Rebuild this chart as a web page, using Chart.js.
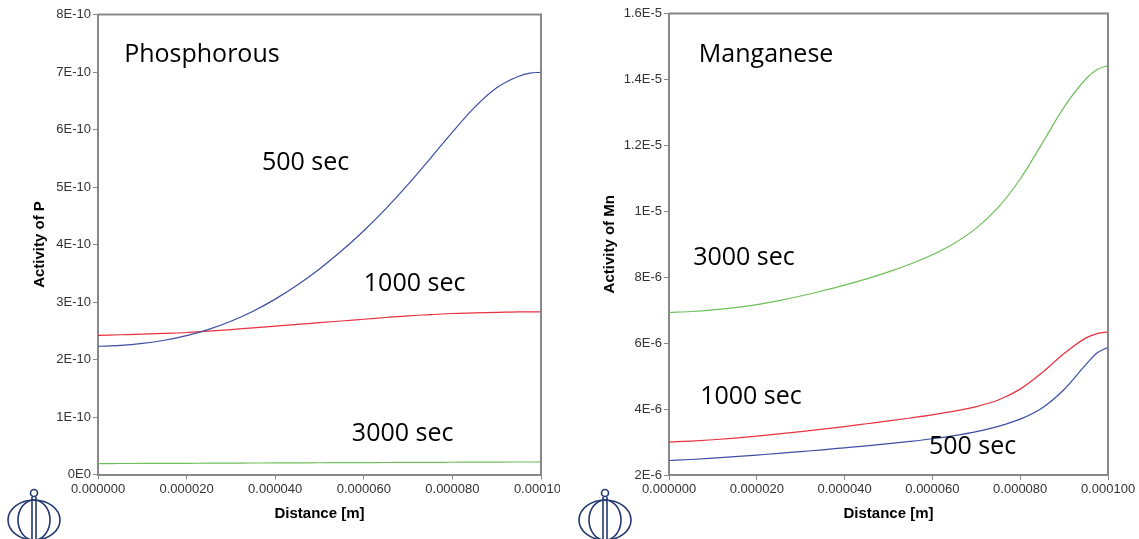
<!DOCTYPE html>
<html>
<head>
<meta charset="utf-8">
<script src="https://cdn.jsdelivr.net/npm/chart.js@4.4.1/dist/chart.umd.min.js"></script>
<style>
  html, body { margin: 0; padding: 0; background: #fff; }
  body { width: 1139px; height: 539px; position: relative; overflow: hidden; }
  .panel { position: absolute; top: 0; height: 539px; overflow: hidden; }
  #pPanel { left: 0; width: 560px; }
  #mnPanel { left: 570px; width: 569px; }
  canvas { display: block; }
</style>
</head>
<body>
<div class="panel" id="pPanel"><canvas id="pChart" width="580" height="539"></canvas></div>
<div class="panel" id="mnPanel"><canvas id="mnChart" width="589" height="539"></canvas></div>
<script>
// Distance from the interface, metres
const distance = [0, 5e-6, 10e-6, 15e-6, 20e-6, 25e-6, 30e-6, 35e-6, 40e-6, 45e-6, 50e-6,
                  55e-6, 60e-6, 65e-6, 70e-6, 75e-6, 80e-6, 85e-6, 90e-6, 95e-6, 97.5e-6, 100e-6];

// Activity of P at each holding time
const pActivity500 = [2.23e-10, 2.245e-10, 2.28e-10, 2.335e-10, 2.415e-10, 2.525e-10, 2.665e-10, 2.84e-10, 3.05e-10, 3.295e-10, 3.575e-10,
                      3.89e-10, 4.24e-10, 4.625e-10, 5.045e-10, 5.495e-10, 5.955e-10, 6.385e-10, 6.725e-10, 6.925e-10, 6.98e-10, 6.995e-10];
const pActivity1000 = [2.42e-10, 2.43e-10, 2.44e-10, 2.455e-10, 2.47e-10, 2.495e-10, 2.52e-10, 2.55e-10, 2.58e-10, 2.61e-10, 2.64e-10,
                       2.67e-10, 2.70e-10, 2.73e-10, 2.76e-10, 2.78e-10, 2.80e-10, 2.81e-10, 2.82e-10, 2.83e-10, 2.83e-10, 2.83e-10];
const pActivity3000 = [0.190e-10, 0.191e-10, 0.192e-10, 0.194e-10, 0.195e-10, 0.197e-10, 0.198e-10, 0.200e-10, 0.201e-10, 0.203e-10, 0.204e-10,
                       0.206e-10, 0.207e-10, 0.209e-10, 0.210e-10, 0.212e-10, 0.213e-10, 0.215e-10, 0.216e-10, 0.217e-10, 0.2175e-10, 0.218e-10];

// Activity of Mn at each holding time
const mnActivity500 = [2.44e-6, 2.47e-6, 2.51e-6, 2.555e-6, 2.605e-6, 2.655e-6, 2.71e-6, 2.765e-6, 2.825e-6, 2.885e-6, 2.95e-6,
                       3.02e-6, 3.10e-6, 3.195e-6, 3.315e-6, 3.475e-6, 3.695e-6, 4.035e-6, 4.595e-6, 5.355e-6, 5.70e-6, 5.875e-6];
const mnActivity1000 = [3.00e-6, 3.03e-6, 3.07e-6, 3.12e-6, 3.18e-6, 3.245e-6, 3.315e-6, 3.39e-6, 3.47e-6, 3.555e-6, 3.64e-6,
                        3.73e-6, 3.825e-6, 3.935e-6, 4.075e-6, 4.275e-6, 4.605e-6, 5.105e-6, 5.685e-6, 6.16e-6, 6.29e-6, 6.34e-6];
const mnActivity3000 = [6.93e-6, 6.96e-6, 7.01e-6, 7.08e-6, 7.17e-6, 7.29e-6, 7.43e-6, 7.59e-6, 7.76e-6, 7.95e-6, 8.16e-6,
                        8.40e-6, 8.68e-6, 9.03e-6, 9.49e-6, 10.12e-6, 10.98e-6, 12.06e-6, 13.16e-6, 14.02e-6, 14.30e-6, 14.42e-6];

// Axis ticks
const xTickValues = [0, 20e-6, 40e-6, 60e-6, 80e-6, 100e-6];
const xTickLabels = ['0.000000', '0.000020', '0.000040', '0.000060', '0.000080', '0.000100'];
const pTickValues = [0, 1e-10, 2e-10, 3e-10, 4e-10, 5e-10, 6e-10, 7e-10, 8e-10];
const pTickLabels = ['0E0', '1E-10', '2E-10', '3E-10', '4E-10', '5E-10', '6E-10', '7E-10', '8E-10'];
const mnTickValues = [2e-6, 4e-6, 6e-6, 8e-6, 10e-6, 12e-6, 14e-6, 16e-6];
const mnTickLabels = ['2E-6', '4E-6', '6E-6', '8E-6', '1E-5', '1.2E-5', '1.4E-5', '1.6E-5'];

// In-plot text, placed in data units
const pNotes = [
  { text: 'Phosphorous', x: 5.9e-6, y: 7.18e-10 },
  { text: '500 sec', x: 37.0e-6, y: 5.30e-10 },
  { text: '1000 sec', x: 60.0e-6, y: 3.20e-10 },
  { text: '3000 sec', x: 57.3e-6, y: 0.58e-10 }
];
const mnNotes = [
  { text: 'Manganese', x: 6.8e-6, y: 14.54e-6 },
  { text: '3000 sec', x: 5.5e-6, y: 8.37e-6 },
  { text: '1000 sec', x: 7.1e-6, y: 4.16e-6 },
  { text: '500 sec', x: 59.2e-6, y: 2.64e-6 }
];

const BLUE = '#3d4ea3';
const RED = '#e8323f';
const GREEN = '#6ebf5a';
const AXIS_GREY = '#888888';

function series(values, color) {
  return {
    data: distance.map((d, i) => ({ x: d, y: values[i] })),
    borderColor: color,
    borderWidth: 1.2,
    pointRadius: 0,
    cubicInterpolationMode: 'monotone',
    fill: false
  };
}

// Frame, in-plot text and the small emblem under the axes
function decorations(notes, logoX) {
  return {
    id: 'decorations',
    afterDatasetsDraw(chart) {
      const { ctx, chartArea: a, scales } = chart;
      ctx.save();
      ctx.strokeStyle = AXIS_GREY;
      ctx.lineWidth = 2;
      ctx.beginPath();
      ctx.moveTo(a.left, a.top);
      ctx.lineTo(a.right, a.top);
      ctx.lineTo(a.right, a.bottom);
      ctx.stroke();

      ctx.fillStyle = '#000';
      ctx.font = '25px "Open Sans"';
      ctx.textAlign = 'left';
      ctx.textBaseline = 'alphabetic';
      notes.forEach(n => {
        ctx.fillText(n.text, scales.x.getPixelForValue(n.x), scales.y.getPixelForValue(n.y));
      });
      ctx.restore();
    },
    afterDraw(chart) {
      const ctx = chart.ctx;
      ctx.save();
      ctx.strokeStyle = '#22386e';
      ctx.lineWidth = 1.6;
      ctx.beginPath();
      ctx.arc(logoX, 493, 3.5, 0, Math.PI * 2);
      ctx.stroke();
      ctx.beginPath();
      ctx.ellipse(logoX, 520, 26, 20, 0, 0, Math.PI * 2);
      ctx.stroke();
      ctx.beginPath();
      ctx.ellipse(logoX, 520, 16, 20, 0, 0, Math.PI * 2);
      ctx.stroke();
      ctx.beginPath();
      ctx.moveTo(logoX - 2, 497);
      ctx.lineTo(logoX - 2, 539);
      ctx.moveTo(logoX + 2, 497);
      ctx.lineTo(logoX + 2, 539);
      ctx.stroke();
      ctx.restore();
    }
  };
}

function buildOptions(cfg) {
  const tickFont = { family: '"Liberation Sans", Arial, sans-serif', size: 13 };
  const titleFont = { family: '"Liberation Sans", Arial, sans-serif', size: 15, weight: 'bold' };
  return {
    responsive: false,
    animation: false,
    devicePixelRatio: 1,
    layout: { autoPadding: false, padding: { left: 0, top: cfg.top, right: cfg.right, bottom: 0 } },
    plugins: { legend: { display: false }, tooltip: { enabled: false } },
    scales: {
      x: {
        type: 'linear',
        min: 0,
        max: 100e-6,
        afterBuildTicks: s => { s.ticks = xTickValues.map(v => ({ value: v })); },
        afterFit: s => { s.height = cfg.xHeight; },
        ticks: {
          color: '#333',
          font: tickFont,
          padding: 2,
          maxRotation: 0,
          autoSkip: false,
          callback: (v, i) => xTickLabels[i]
        },
        grid: { display: true, drawOnChartArea: false, drawTicks: true, tickLength: 5, color: AXIS_GREY },
        border: { display: true, color: AXIS_GREY, width: 2 },
        title: { display: true, text: 'Distance [m]', color: '#000', font: titleFont, padding: { top: 0, bottom: 16 } }
      },
      y: {
        type: 'linear',
        min: cfg.yMin,
        max: cfg.yMax,
        afterBuildTicks: s => { s.ticks = cfg.yTicks.map(v => ({ value: v })); },
        afterFit: s => { s.width = cfg.yWidth; },
        ticks: {
          color: '#333',
          font: tickFont,
          padding: 2,
          autoSkip: false,
          callback: (v, i) => cfg.yLabels[i]
        },
        grid: { display: true, drawOnChartArea: false, drawTicks: true, tickLength: 5, color: AXIS_GREY },
        border: { display: true, color: AXIS_GREY, width: 2 },
        title: { display: true, text: cfg.yTitle, color: '#000', font: titleFont, padding: { top: 31, bottom: 0 } }
      }
    }
  };
}

new Chart(document.getElementById('pChart'), {
  type: 'line',
  data: {
    datasets: [
      series(pActivity500, BLUE),
      series(pActivity1000, RED),
      series(pActivity3000, GREEN)
    ]
  },
  options: buildOptions({
    top: 14.5, right: 39, xHeight: 64.5, yWidth: 98,
    yMin: 0, yMax: 8e-10, yTicks: pTickValues, yLabels: pTickLabels,
    yTitle: 'Activity of P'
  }),
  plugins: [decorations(pNotes, 34)]
});

new Chart(document.getElementById('mnChart'), {
  type: 'line',
  data: {
    datasets: [
      series(mnActivity500, BLUE),
      series(mnActivity1000, RED),
      series(mnActivity3000, GREEN)
    ]
  },
  options: buildOptions({
    top: 13.5, right: 51, xHeight: 64, yWidth: 99,
    yMin: 2e-6, yMax: 16e-6, yTicks: mnTickValues, yLabels: mnTickLabels,
    yTitle: 'Activity of Mn'
  }),
  plugins: [decorations(mnNotes, 35)]
});
</script>
</body>
</html>
